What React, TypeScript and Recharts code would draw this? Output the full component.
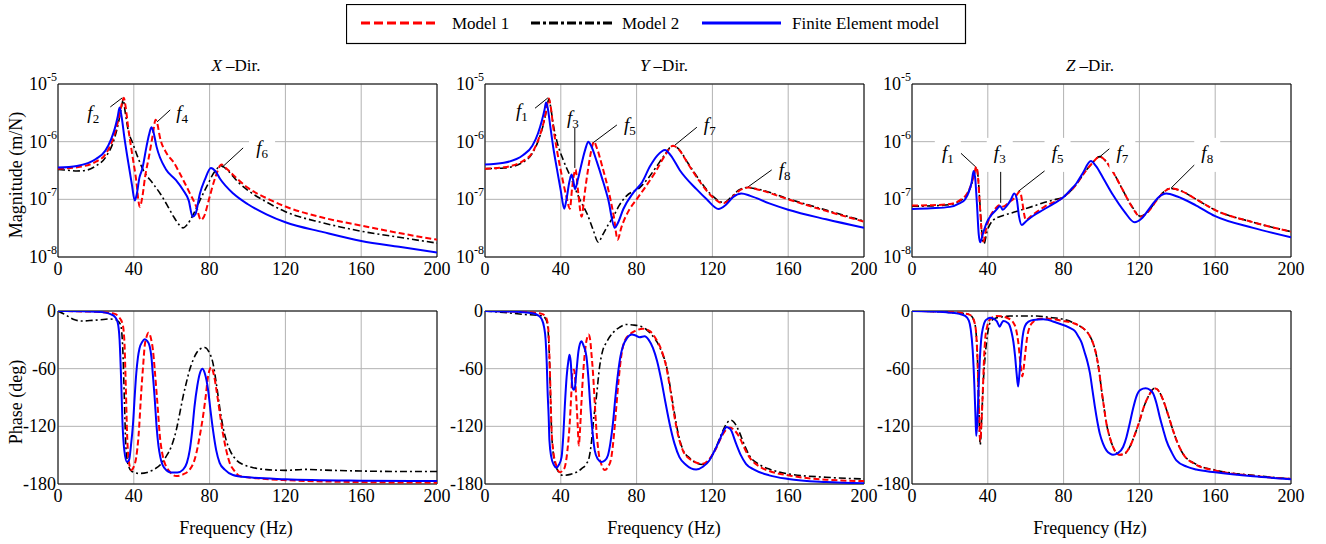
import React from 'react';
import {
  LineChart,
  Line,
  XAxis,
  YAxis,
  CartesianGrid,
  ReferenceArea,
  ReferenceLine,
  ReferenceDot,
} from 'recharts';

type Pair = [number, number];
type Note = { n: string; at: Pair; from: Pair; to: Pair; boxed?: boolean };

const freqTicks = [0, 40, 80, 120, 160, 200];
const magTicks = [1e-8, 1e-7, 1e-6, 1e-5];
const phaseTicks = [-180, -120, -60, 0];
const seriesNames = ['Model 1', 'Model 2', 'Finite Element model'];
const directions = ['X', 'Y', 'Z'];

// ---- magnitude (m/N), [frequency Hz, value] ----
const xMagM1: Pair[] = [
  [0, 3.4e-7], [10, 3.6e-7], [20, 4.5e-7], [25, 6e-7], [30, 1.4e-6], [32, 2.5e-6], [33.5, 4.3e-6],
  [34.7, 5.8e-6], [35.7, 4e-6], [37, 1.8e-6], [39, 6.5e-7], [41, 2.5e-7], [43.2, 7.4e-8], [44.5, 1.1e-7],
  [46, 2.5e-7], [48, 5.5e-7], [50, 1.3e-6], [51.5, 2.4e-6], [52.5, 2.0e-6], [53.7, 1.23e-6], [57.3, 6.3e-7],
  [61, 4.4e-7], [64.3, 2.8e-7], [69.6, 1.27e-7], [73, 7.4e-8], [75.4, 4.4e-8], [77, 5e-8], [80, 1.1e-7],
  [83, 2.4e-7], [86.3, 4e-7], [89, 3.4e-7], [95, 2.2e-7], [100, 1.6e-7], [110, 1.05e-7], [120, 7.5e-8],
  [140, 4.8e-8], [160, 3.5e-8], [180, 2.6e-8], [200, 2.0e-8],
];
const xMagM2: Pair[] = [
  [0, 3.3e-7], [5, 3.2e-7], [10, 3.1e-7], [15, 3.2e-7], [20, 3.8e-7], [25, 5.3e-7], [30, 1.2e-6],
  [32, 2.2e-6], [33.5, 4e-6], [34.4, 5.3e-6], [35.5, 3.2e-6], [37, 1.6e-6], [39.5, 9.3e-7], [42, 5.5e-7],
  [45, 3.2e-7], [50, 1.9e-7], [54, 1.25e-7], [58, 7.5e-8], [61, 5e-8], [64, 3.6e-8], [66, 3.2e-8],
  [68, 3.6e-8], [72, 6e-8], [75, 9.8e-8], [79, 1.8e-7], [82, 2.8e-7], [86.3, 3.8e-7], [89, 3.3e-7],
  [95, 2e-7], [100, 1.45e-7], [110, 9e-8], [120, 6.1e-8], [140, 3.9e-8], [160, 2.8e-8], [180, 2.2e-8],
  [200, 1.74e-8],
];
const xMagFE: Pair[] = [
  [0, 3.55e-7], [10, 3.8e-7], [20, 5.0e-7], [25, 7.0e-7], [28, 1.1e-6], [30, 1.7e-6], [31.5, 2.7e-6],
  [32.5, 3.9e-6], [33.5, 2.8e-6], [35, 1.2e-6], [37, 4.5e-7], [39, 1.8e-7], [40.5, 9.5e-8], [41.5, 1.2e-7],
  [43, 2.4e-7], [44.5, 3.4e-7], [46.7, 8.2e-7], [48, 1.3e-6], [49.3, 1.78e-6], [50.3, 1.5e-6], [52, 8.2e-7],
  [57, 3.3e-7], [62, 2.2e-7], [66, 1.45e-7], [69, 9.5e-8], [71, 5e-8], [72.5, 5.5e-8], [74.9, 1.26e-7],
  [77.5, 2.2e-7], [80.7, 3.5e-7], [83, 3.1e-7], [85.4, 2.3e-7], [92.5, 1.26e-7], [100, 8.3e-8],
  [110, 5.5e-8], [120, 4.0e-8], [140, 2.7e-8], [160, 1.9e-8], [180, 1.5e-8], [200, 1.2e-8],
];

const yMagM1: Pair[] = [
  [0, 3.4e-7], [10, 3.6e-7], [20, 4.6e-7], [25, 6.5e-7], [29, 1.3e-6], [31, 2.2e-6], [32.5, 3.8e-6],
  [33.7, 5.6e-6], [34.7, 4e-6], [36, 1.8e-6], [38, 7e-7], [40.5, 2.6e-7], [43, 1.1e-7], [44.8, 6.9e-8],
  [46, 1.6e-7], [47.8, 3.3e-7], [49, 1.5e-7], [51, 5e-8], [52.5, 1.2e-7], [54.5, 3.5e-7], [56, 6.8e-7],
  [57.5, 1.0e-6], [59, 7.8e-7], [62, 3.6e-7], [65, 1.5e-7], [68, 5e-8], [70, 2.0e-8], [72, 3.3e-8],
  [76, 6.5e-8], [80, 1.0e-7], [85, 1.7e-7], [90.5, 3.2e-7], [95, 5.8e-7], [99.3, 8.5e-7], [102, 7.5e-7],
  [107, 4.2e-7], [113, 2.1e-7], [120, 1.1e-7], [125.7, 8.5e-8], [130, 1.05e-7], [134, 1.4e-7],
  [138.9, 1.6e-7], [145, 1.45e-7], [160, 1.0e-7], [180, 6.3e-8], [200, 4.1e-8],
];
const yMagM2: Pair[] = [
  [0, 3.4e-7], [10, 3.5e-7], [20, 4.4e-7], [25, 6.3e-7], [29, 1.25e-6], [31, 2.1e-6], [32.5, 3.6e-6],
  [33.7, 5.5e-6], [34.7, 3.9e-6], [36, 2.0e-6], [38, 1.0e-6], [41.3, 4.8e-7], [45, 2.5e-7], [50, 1.0e-7],
  [54, 5.5e-8], [57, 3e-8], [59.8, 1.8e-8], [62, 2.4e-8], [65, 3.6e-8], [67.7, 5e-8], [71, 8e-8],
  [74.7, 1.15e-7], [81.7, 1.6e-7], [86, 2.3e-7], [90.5, 3.7e-7], [95, 6e-7], [99, 8.5e-7], [102, 7.6e-7],
  [107, 4.3e-7], [113, 2.2e-7], [120, 1.15e-7], [126, 8.8e-8], [130, 1.1e-7], [134, 1.45e-7],
  [138.5, 1.6e-7], [145, 1.48e-7], [160, 1.02e-7], [180, 6.5e-8], [200, 4.2e-8],
];
const yMagFE: Pair[] = [
  [0, 4.0e-7], [10, 4.3e-7], [20, 5.8e-7], [25, 8.5e-7], [28, 1.4e-6], [30, 2.3e-6], [31.5, 3.7e-6],
  [32.2, 4.8e-6], [33, 4e-6], [34.5, 1.8e-6], [36, 8e-7], [38, 3.3e-7], [40, 1.4e-7], [41.8, 6.9e-8],
  [43, 1.0e-7], [44.5, 2e-7], [45.7, 2.7e-7], [46.6, 2.1e-7], [47.5, 1.5e-7], [49, 2.2e-7], [51, 4.2e-7],
  [53, 7.5e-7], [54.5, 1.0e-6], [56, 8.5e-7], [59, 4.5e-7], [62, 2.2e-7], [65, 1e-7], [68.5, 3.2e-8],
  [70, 3.8e-8], [73, 6.8e-8], [78, 1.27e-7], [83, 2e-7], [87, 3.7e-7], [91, 5.8e-7], [95, 7.2e-7],
  [98, 5.8e-7], [102.8, 3.2e-7], [111.6, 1.5e-7], [117, 1e-7], [123.2, 6.8e-8], [127, 8e-8],
  [131, 1.1e-7], [135.3, 1.26e-7], [140, 1.15e-7], [150, 8.5e-8], [160, 6.6e-8], [180, 4.5e-8],
  [200, 3.2e-8],
];

const zMagM1: Pair[] = [
  [0, 7.8e-8], [10, 7.9e-8], [20, 8.3e-8], [25, 9.5e-8], [29, 1.25e-7], [31.5, 1.9e-7], [33, 2.9e-7],
  [33.9, 3.7e-7], [34.8, 2.5e-7], [35.8, 8e-8], [36.8, 2.6e-8], [37.7, 1.85e-8], [39, 3e-8], [41.2, 5e-8],
  [44, 6.9e-8], [46.5, 8e-8], [48.2, 7.5e-8], [51, 8.8e-8], [54, 1.05e-7], [57, 1.35e-7], [58.2, 9e-8],
  [59.2, 5.5e-8], [60, 4.4e-8], [63, 5.2e-8], [70, 7.5e-8], [80, 1.1e-7], [86, 1.7e-7], [91, 2.9e-7],
  [95, 4.2e-7], [99, 5.5e-7], [102, 4.7e-7], [106, 3e-7], [111, 1.5e-7], [116, 7.5e-8], [120.5, 5e-8],
  [124, 5.8e-8], [129, 9.5e-8], [133, 1.35e-7], [136.5, 1.55e-7], [142, 1.4e-7], [150, 1.0e-7],
  [160, 6.5e-8], [180, 4.0e-8], [200, 2.75e-8],
];
const zMagM2: Pair[] = [
  [0, 7.6e-8], [10, 7.7e-8], [20, 8.1e-8], [25, 9.3e-8], [29, 1.22e-7], [31.5, 1.85e-7], [33, 2.8e-7],
  [34, 3.6e-7], [34.9, 2.4e-7], [36, 7e-8], [37, 2.4e-8], [38, 1.7e-8], [39.5, 2.7e-8], [43, 4.4e-8],
  [47, 5.1e-8], [51.8, 5.7e-8], [56, 6.3e-8], [60.5, 7e-8], [65, 7.8e-8], [69.3, 8.7e-8], [75, 9.8e-8],
  [80, 1.1e-7], [86, 1.7e-7], [91, 2.9e-7], [95, 4.2e-7], [99, 5.5e-7], [102, 4.7e-7], [106, 3e-7],
  [111, 1.5e-7], [116, 7.6e-8], [120.5, 5.1e-8], [124, 5.9e-8], [129, 9.6e-8], [133, 1.36e-7],
  [136.5, 1.55e-7], [142, 1.4e-7], [150, 1.0e-7], [160, 6.5e-8], [180, 4.0e-8], [200, 2.75e-8],
];
const zMagFE: Pair[] = [
  [0, 6.8e-8], [10, 7.0e-8], [20, 7.4e-8], [25, 8.5e-8], [28, 1.0e-7], [30, 1.35e-7], [31.5, 2.0e-7],
  [32.5, 3.1e-7], [33.3, 2.4e-7], [34.3, 8e-8], [35.2, 2.5e-8], [36, 1.8e-8], [37.5, 2.6e-8], [39.5, 4e-8],
  [42, 5.4e-8], [44.7, 6.7e-8], [46.5, 7.7e-8], [47.9, 6.6e-8], [50, 7.7e-8], [52, 9.6e-8], [54, 1.26e-7],
  [55.3, 1.0e-7], [56.5, 5e-8], [57.9, 3.6e-8], [60, 4.1e-8], [64, 5.2e-8], [69.3, 6.6e-8], [75, 8.5e-8],
  [80, 1.1e-7], [84, 1.5e-7], [86.8, 1.9e-7], [90, 2.8e-7], [94.4, 4.6e-7], [97, 3.8e-7], [101, 2.3e-7],
  [106, 1.2e-7], [112, 6.2e-8], [117.5, 4.0e-8], [121, 4.6e-8], [126, 7.5e-8], [130, 1.08e-7],
  [134.2, 1.26e-7], [140, 1.12e-7], [150, 7.8e-8], [160, 5.1e-8], [180, 3.2e-8], [200, 2.2e-8],
];

// ---- phase (deg) ----
const xPhM1: Pair[] = [
  [0, 0], [10, -0.3], [20, -0.8], [30, -3], [32, -6], [34, -13], [35, -30], [35.8, -80], [36.5, -130],
  [37.5, -158], [38.7, -165.5], [40, -162], [41.3, -152], [42.5, -130], [44, -82], [45, -55], [45.7, -37],
  [46.7, -27], [47.8, -22.5], [49, -28], [50.1, -40.6], [51, -60], [51.9, -82], [52.8, -105], [53.6, -127],
  [55, -148], [56.3, -158], [58.5, -166], [62.4, -171.7], [66, -170], [69.5, -165], [71.5, -158],
  [73, -148], [74.8, -130], [76.5, -110], [78, -88], [79.2, -68], [80.9, -58.6], [82.2, -66], [83.6, -82],
  [85.3, -105], [87, -127], [88.8, -145], [90.6, -158], [93, -166], [95.9, -171.7], [105, -174],
  [120, -176], [160, -178], [200, -178.6],
];
const xPhM2: Pair[] = [
  [0, 0], [4, -4], [8, -8.5], [12.3, -10.4], [18, -9.8], [24, -8.8], [27.3, -8.3], [30.8, -9.4], [33, -14],
  [34.2, -40], [35, -90], [35.8, -140], [37, -160], [39, -167], [43, -169], [47, -168], [50, -165.5],
  [54, -160], [57, -151.6], [60, -140], [62.4, -124], [64.3, -106], [66, -89], [67.8, -74], [69.5, -61],
  [71.3, -51], [73, -44], [75, -39.5], [77.4, -38], [79.5, -42], [81.8, -54.5], [83.6, -76], [85.3, -100],
  [87, -120], [88.8, -134.7], [91, -146], [94.1, -155], [98, -160], [103, -163], [110, -165],
  [120, -165.8], [130, -164.8], [140, -165.5], [160, -166.5], [180, -167], [200, -167],
];
const xPhFE: Pair[] = [
  [0, 0], [10, -0.3], [20, -0.8], [25, -1.7], [28, -3.5], [30, -6], [31.5, -12], [32.5, -30], [33.3, -70],
  [34, -115], [35, -145], [36.4, -157], [37.5, -155], [38.5, -140], [39.6, -117], [40.5, -88], [41.3, -65],
  [42.2, -48], [43, -39], [44.5, -32], [45.7, -29.5], [47, -31], [48.4, -37], [49.3, -48], [50, -65],
  [51, -90], [51.9, -117], [53, -140], [54, -152], [56, -163], [59.8, -168], [63, -168], [66, -165],
  [68, -158], [69.5, -145], [70.8, -125], [72, -100], [73.5, -78], [75, -64], [76.2, -60], [77.5, -65],
  [79.2, -82], [80.5, -104], [81.8, -124], [83.5, -145], [85.3, -158], [88, -165], [92.3, -170.6],
  [100, -173], [120, -175], [160, -176.5], [200, -177],
];

const yPhM1: Pair[] = [
  [0, 0], [10, -0.3], [20, -0.9], [30, -3], [32, -6], [33, -12], [33.6, -25], [34, -47], [34.5, -80],
  [35, -117], [36, -145], [37.5, -160], [39.5, -167.8], [41, -166], [42.1, -162.6], [43.5, -145],
  [44.7, -117], [45.5, -88], [46.1, -64.7], [47, -61], [47.6, -72], [48.2, -92.6], [48.9, -118],
  [49.5, -140], [50.1, -125], [50.9, -95], [51.8, -64.7], [53, -38], [54, -27], [54.7, -24.5], [55.5, -30],
  [56.2, -45], [57, -64.7], [57.9, -95], [58.8, -124], [60, -148], [61.5, -160], [63.2, -165.4],
  [65, -162], [66.7, -152], [68, -130], [69.3, -99.6], [70.6, -70], [71.9, -47], [73.5, -32], [76.3, -24.5],
  [79, -21], [83.3, -18.5], [87, -21], [90.4, -29.7], [93, -40], [95.6, -57.7], [97.8, -82], [100, -110],
  [102, -130], [104.4, -145], [108, -154], [114.9, -159], [118, -155], [121.9, -143], [125, -130],
  [127.5, -123], [129.3, -121.3], [131, -123], [134.2, -131], [137, -143], [139.5, -152], [145, -162],
  [150, -166.5], [160, -171], [180, -175.5], [200, -177],
];
const yPhM2: Pair[] = [
  [0, 0], [10, -1.5], [20, -3.5], [30, -5], [32, -8], [33, -15], [33.6, -30], [34, -50], [34.5, -85],
  [35, -118], [36, -148], [37.5, -162], [39, -168], [41.2, -171], [45, -170], [48.2, -167.8], [51, -164],
  [53.5, -159], [55, -152], [56.1, -138], [57.2, -115], [58.8, -89], [60.5, -57.7], [62, -42], [64, -33],
  [67.5, -22.7], [71, -17], [74.6, -14], [78, -14.5], [81.6, -15.7], [85, -19], [88.6, -26.2], [91, -33],
  [93.5, -44], [95.6, -56], [97.8, -80], [100, -106.6], [102, -128], [104.4, -144], [108, -153],
  [114.9, -159.7], [118, -156], [121.9, -142], [125, -127], [127.5, -117], [129.8, -113.6], [131.5, -116],
  [134.2, -126], [137, -140], [139.5, -150.3], [145, -160], [150, -164.5], [160, -169.5], [180, -173],
  [200, -174.8],
];
const yPhFE: Pair[] = [
  [0, 0], [10, -0.5], [20, -1.2], [25, -2.4], [28, -4.5], [30, -8.7], [31.2, -17], [32, -30], [32.6, -55],
  [33, -82], [33.6, -110], [34, -134.6], [35, -152], [36.3, -160], [37.7, -163], [39, -160], [40.4, -152],
  [41.3, -130], [42.1, -99.6], [43.1, -68], [44, -52], [44.6, -45.4], [45.2, -52], [46.1, -78.6],
  [46.8, -82], [47.4, -80], [48.3, -62], [49.3, -42], [50.1, -34], [50.9, -31.5], [52, -36], [53.5, -47],
  [54.5, -68], [55.6, -99.6], [56.7, -125], [57.9, -145], [59.5, -154], [61.4, -157], [63.2, -155.5],
  [64.9, -150], [66.2, -137], [67.5, -117], [68.8, -90], [70.2, -64.7], [71.5, -47], [72.8, -36.7],
  [75, -28], [77.5, -24.5], [79.5, -25.5], [81.6, -27.3], [84.2, -26.2], [86.4, -30], [88.6, -38.4],
  [90.8, -52], [93, -71.6], [95.2, -95], [97.4, -117], [100, -138], [102.6, -152], [106, -160],
  [111.4, -165], [115, -162], [118.4, -155.5], [121, -146], [123.7, -134.6], [125.8, -125],
  [127.5, -120.6], [129.5, -123], [132.5, -138], [135, -150], [137.7, -159], [142, -165], [150, -171],
  [160, -174.8], [180, -178], [200, -179.3],
];

const zPhM1: Pair[] = [
  [0, 0], [10, -0.3], [20, -1], [30, -3.5], [32, -7], [33, -12], [33.8, -22], [34.5, -47], [35.2, -90],
  [36, -135], [36.7, -115], [37.4, -82], [38, -50], [38.6, -29.7], [39.8, -15], [41.2, -8.7], [43, -6],
  [44.7, -5.2], [47, -5.5], [50, -7], [52, -9], [53.5, -12.2], [54.8, -18], [56.1, -33], [57.4, -57.7],
  [58.2, -68], [58.9, -60], [59.6, -47], [60.8, -27], [62.3, -15.7], [64.5, -10.5], [67.5, -8], [72, -8],
  [80, -10.5], [85, -12.5], [88.6, -15.7], [91.5, -20], [93.9, -26.2], [95.8, -35], [97.4, -47],
  [98.7, -62], [100, -82], [101.3, -100], [102.6, -117], [104.3, -131], [106.1, -141.5], [109.6, -149.6],
  [112.5, -148], [114.9, -141.5], [117.5, -129], [120.2, -113.6], [122.5, -99], [125, -88], [128, -80.4],
  [130.5, -84], [132.5, -92.6], [135, -107], [137.7, -124], [140.3, -138], [143, -148.5], [150, -160],
  [160, -166], [180, -171.5], [200, -174.8],
];
const zPhM2: Pair[] = [
  [0, 0], [10, -0.5], [20, -1.5], [30, -3.5], [32, -7], [33, -12], [33.8, -22], [34.5, -47], [35.2, -95],
  [36, -139], [36.8, -110], [37.6, -75], [38.6, -47], [39.8, -25], [41.2, -12], [43, -8.5], [44.7, -7],
  [48, -6], [51.8, -5.2], [58, -5.2], [65.8, -5.2], [72, -6.5], [80, -8.7], [85, -12], [88.6, -15.7],
  [91.5, -20], [93.9, -26.2], [95.8, -35], [97.4, -47], [98.7, -62], [100, -82], [101.3, -100],
  [102.6, -117], [104.3, -131], [106.1, -141.5], [109.6, -149.6], [112.5, -148], [114.9, -141.5],
  [117.5, -129], [120.2, -113.6], [122.5, -99], [125, -88], [128, -80.4], [130.5, -84], [132.5, -92.6],
  [135, -107], [137.7, -124], [140.3, -138], [143, -148.5], [150, -159.5], [160, -165.5], [180, -171],
  [200, -174.5],
];
const zPhFE: Pair[] = [
  [0, 0], [10, -0.5], [20, -1.7], [25, -3], [28, -5], [30, -10], [31, -19], [32, -40], [33, -82],
  [33.5, -110], [33.9, -130], [34.5, -115], [35.1, -82], [35.8, -50], [36.5, -29.7], [37.5, -17],
  [38.6, -10.5], [40, -8], [41.2, -7], [43, -8], [44.7, -10.5], [46.3, -16.4], [47.2, -13], [48.2, -10.5],
  [50.4, -12.2], [51.5, -15], [52.6, -22.7], [53.5, -32], [54.4, -47], [55.2, -65], [56, -78.6],
  [56.7, -65], [57.4, -47], [58.3, -28], [59.6, -15.7], [61.5, -11], [64, -9.4], [69.3, -8.7],
  [76.3, -12.2], [83.3, -17.5], [86, -21], [87.7, -26.2], [89.5, -33], [91.2, -43.7], [92.6, -53],
  [93.9, -64.7], [95.2, -82], [96.5, -99.6], [97.8, -115], [99.1, -127.6], [100.8, -138], [102.6, -145],
  [104.5, -148.5], [106.1, -149.6], [108.5, -148], [111.4, -141.5], [113.2, -131], [114.9, -117],
  [116.6, -102], [118.4, -89], [120.5, -82], [123.3, -80.4], [125.5, -82], [127.2, -85.6], [129, -96],
  [130.7, -110], [132.5, -123], [134.2, -134.6], [137, -147], [139.5, -155.5], [145, -162], [150, -165],
  [160, -167.8], [180, -172], [200, -175],
];

// ---- mode labels on the magnitude plots ----
const xNotes: Note[] = [
  { n: '2', at: [18.6, 2.9e-6], from: [27.6, 4.0e-6], to: [33.9, 5.75e-6] },
  { n: '4', at: [65.5, 2.9e-6], from: [52.3, 2.2e-6], to: [59.2, 3.55e-6] },
  { n: '6', at: [107.7, 7.2e-7], from: [86.6, 3.6e-7], to: [97.7, 7.8e-7], boxed: true },
];
const yNotes: Note[] = [
  { n: '1', at: [19.5, 3.2e-6], from: [26.4, 3.8e-6], to: [33.2, 5.75e-6] },
  { n: '3', at: [46.4, 2.4e-6], from: [47.4, 1.74e-6], to: [47.4, 3.5e-7] },
  { n: '5', at: [76.4, 1.78e-6], from: [69.6, 1.95e-6], to: [56.9, 9.5e-7] },
  { n: '7', at: [118.6, 1.78e-6], from: [111.8, 1.78e-6], to: [100.2, 8.7e-7] },
  { n: '8', at: [158.1, 2.95e-7], from: [151.3, 3.24e-7], to: [138.1, 1.58e-7] },
];
const zNotes: Note[] = [
  { n: '1', at: [18.9, 5.9e-7], from: [25.8, 6.3e-7], to: [33.7, 3.63e-7], boxed: true },
  { n: '3', at: [46.3, 5.9e-7], from: [46.8, 4.47e-7], to: [46.8, 8.7e-8], boxed: true },
  { n: '5', at: [76.8, 5.9e-7], from: [72.6, 3.63e-7], to: [55.8, 1.35e-7], boxed: true },
  { n: '7', at: [111, 5.9e-7], from: [105.3, 8.1e-7], to: [98.9, 5.4e-7], boxed: true },
  { n: '8', at: [155.8, 5.9e-7], from: [151.6, 4.8e-7], to: [136.8, 1.58e-7], boxed: true },
];

const FONT = '"Liberation Serif", "DejaVu Serif", "Times New Roman", serif';
const RED = '#ff0000';
const BLUE = '#0000ff';
const PLOT_W = 379;
const PLOT_H = 173;
const AXIS_W = 60;
const M_TOP = 22;
const M_RIGHT = 14;
const AXIS_H = 40;
const colLefts = [58, 485, 912];
const titleCenters = [236, 664, 1090];
const rowTops = [84, 311];

const toPts = (arr: Pair[]) => arr.map(([f, v]) => ({ f, v }));

const MagTick = (props: any) => {
  const { x, y, payload } = props;
  const exp = Math.round(Math.log10(payload.value));
  return (
    <text x={x - 1} y={y + 6} textAnchor="end" fontFamily={FONT} fontSize={18} fill="#000">
      10<tspan dy={-9} fontSize={12}>{String(exp)}</tspan>
    </text>
  );
};

const PhaseTick = (props: any) => {
  const { x, y, payload } = props;
  return (
    <text x={x - 2} y={y + 6} textAnchor="end" fontFamily={FONT} fontSize={18} fill="#000">
      {String(payload.value)}
    </text>
  );
};

const FreqTick = (props: any) => {
  const { x, y, payload } = props;
  return (
    <text x={x} y={y + 18} textAnchor="middle" fontFamily={FONT} fontSize={18} fill="#000">
      {String(payload.value)}
    </text>
  );
};

const NoteLabel = ({ cx, cy, n, boxed }: { cx: number; cy: number; n: string; boxed?: boolean }) => (
  <g>
    {boxed && <rect x={cx - 13} y={cy - 17} width={26} height={34} fill="#fff" />}
    <text x={cx} y={cy + 4} textAnchor="middle" fontFamily={FONT} fontSize={19} fill="#000">
      <tspan fontStyle="italic">f</tspan>
      <tspan dy={4} fontSize={13}>{n}</tspan>
    </text>
  </g>
);

function Panel({
  left,
  top,
  mag,
  m1,
  m2,
  fe,
  notes,
}: {
  left: number;
  top: number;
  mag: boolean;
  m1: Pair[];
  m2: Pair[];
  fe: Pair[];
  notes: Note[];
}) {
  const yDomain: [number, number] = mag ? [1e-8, 1e-5] : [-180, 0];
  return (
    <div style={{ position: 'absolute', left: left - AXIS_W, top: top - M_TOP }}>
      <LineChart
        width={AXIS_W + PLOT_W + M_RIGHT}
        height={M_TOP + PLOT_H + AXIS_H}
        margin={{ top: M_TOP, right: M_RIGHT, bottom: 0, left: 0 }}
      >
        <CartesianGrid stroke="#b2b2b2" strokeWidth={1} />
        <XAxis
          type="number"
          dataKey="f"
          domain={[0, 200]}
          ticks={freqTicks}
          interval={0}
          allowDataOverflow
          axisLine={false}
          tickLine={false}
          tickSize={0}
          tickMargin={0}
          height={AXIS_H}
          tick={FreqTick}
        />
        <YAxis
          type="number"
          scale={mag ? 'log' : 'linear'}
          domain={yDomain}
          ticks={mag ? magTicks : phaseTicks}
          interval={0}
          allowDataOverflow
          axisLine={false}
          tickLine={false}
          tickSize={0}
          tickMargin={0}
          width={AXIS_W}
          tick={mag ? MagTick : PhaseTick}
        />
        <ReferenceArea x1={0} x2={200} y1={yDomain[0]} y2={yDomain[1]} fill="none" stroke="#000" strokeWidth={1} />
        {notes.map((n) => (
          <ReferenceDot
            key={'d' + n.n}
            x={n.at[0]}
            y={n.at[1]}
            r={0}
            shape={(p: any) => <NoteLabel cx={p.cx} cy={p.cy} n={n.n} boxed={n.boxed} />}
          />
        ))}
        {notes.map((n) => (
          <ReferenceLine
            key={'l' + n.n}
            segment={[
              { x: n.from[0], y: n.from[1] },
              { x: n.to[0], y: n.to[1] },
            ]}
            stroke="#000"
            strokeWidth={1}
          />
        ))}
        <Line data={toPts(m2)} dataKey="v" name={seriesNames[1]} type="monotone" stroke="#000" strokeWidth={1.6} strokeDasharray="7 3 2 3" dot={false} isAnimationActive={false} />
        <Line data={toPts(m1)} dataKey="v" name={seriesNames[0]} type="monotone" stroke={RED} strokeWidth={2} strokeDasharray="6 3" dot={false} isAnimationActive={false} />
        <Line data={toPts(fe)} dataKey="v" name={seriesNames[2]} type="monotone" stroke={BLUE} strokeWidth={2} dot={false} isAnimationActive={false} />
      </LineChart>
    </div>
  );
}

function Legend() {
  return (
    <svg style={{ position: 'absolute', left: 346, top: 4 }} width={622} height={41}>
      <rect x={0.5} y={0.5} width={619} height={39} fill="#fff" stroke="#000" strokeWidth={1.2} />
      <line x1={15} y1={19} x2={92} y2={19} stroke={RED} strokeWidth={3} strokeDasharray="9 4" />
      <text x={106} y={25} fontFamily={FONT} fontSize={17} fill="#000">{seriesNames[0]}</text>
      <line x1={185} y1={19} x2={266} y2={19} stroke="#000" strokeWidth={3} strokeDasharray="9 3 3 3" />
      <text x={276} y={25} fontFamily={FONT} fontSize={17} fill="#000">{seriesNames[1]}</text>
      <line x1={356} y1={19} x2={435} y2={19} stroke={BLUE} strokeWidth={3} />
      <text x={446} y={25} fontFamily={FONT} fontSize={17} fill="#000">{seriesNames[2]}</text>
    </svg>
  );
}

export default function App() {
  const magSets = [
    { m1: xMagM1, m2: xMagM2, fe: xMagFE, notes: xNotes },
    { m1: yMagM1, m2: yMagM2, fe: yMagFE, notes: yNotes },
    { m1: zMagM1, m2: zMagM2, fe: zMagFE, notes: zNotes },
  ];
  const phaseSets = [
    { m1: xPhM1, m2: xPhM2, fe: xPhFE },
    { m1: yPhM1, m2: yPhM2, fe: yPhFE },
    { m1: zPhM1, m2: zPhM2, fe: zPhFE },
  ];
  return (
    <div
      style={{
        position: 'absolute',
        left: 0,
        top: 0,
        width: 1326,
        height: 544,
        background: '#fff',
        fontFamily: FONT,
        color: '#000',
        overflow: 'hidden',
      }}
    >
      {magSets.map((s, i) => (
        <Panel key={'m' + i} left={colLefts[i]} top={rowTops[0]} mag m1={s.m1} m2={s.m2} fe={s.fe} notes={s.notes} />
      ))}
      {phaseSets.map((s, i) => (
        <Panel key={'p' + i} left={colLefts[i]} top={rowTops[1]} mag={false} m1={s.m1} m2={s.m2} fe={s.fe} notes={[]} />
      ))}
      {directions.map((d, i) => (
        <div
          key={d}
          style={{ position: 'absolute', left: titleCenters[i] - 80, top: 56, width: 160, textAlign: 'center', fontSize: 17, lineHeight: '20px' }}
        >
          <i>{d}</i> –Dir.
        </div>
      ))}
      {titleCenters.map((c, i) => (
        <div
          key={'fq' + i}
          style={{ position: 'absolute', left: c - 100, top: 518, width: 200, textAlign: 'center', fontSize: 18, lineHeight: '20px' }}
        >
          Frequency (Hz)
        </div>
      ))}
      <div
        style={{ position: 'absolute', left: -84, top: 165, width: 200, height: 20, lineHeight: '20px', textAlign: 'center', fontSize: 18, transform: 'rotate(-90deg)' }}
      >
        Magnitude (m/N)
      </div>
      <div
        style={{ position: 'absolute', left: -84, top: 392, width: 200, height: 20, lineHeight: '20px', textAlign: 'center', fontSize: 18, transform: 'rotate(-90deg)' }}
      >
        Phase (deg)
      </div>
      <Legend />
    </div>
  );
}
